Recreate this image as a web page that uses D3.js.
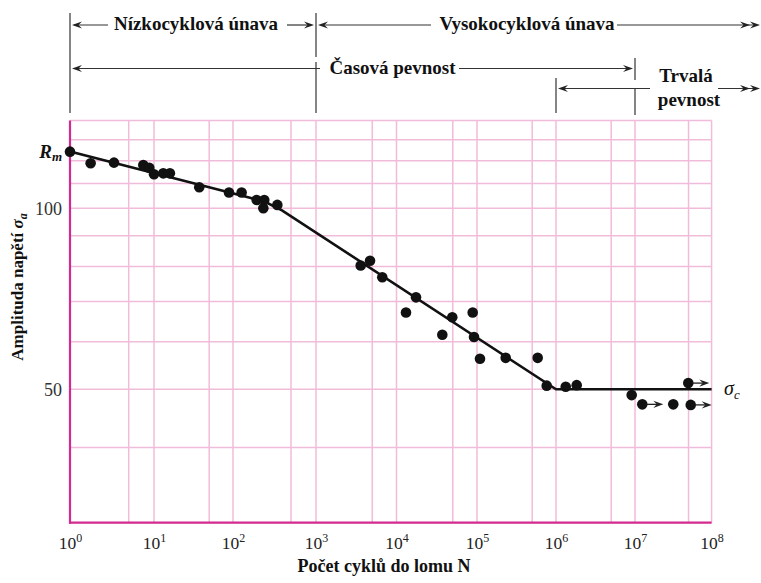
<!DOCTYPE html>
<html><head><meta charset="utf-8">
<script src="https://cdn.jsdelivr.net/npm/d3@7"></script>
<style>
html,body{margin:0;padding:0;background:#fff;}
svg{display:block;}
text{font-family:"Liberation Serif","Times New Roman",serif;}
</style></head>
<body>
<svg id="c" width="761" height="583"></svg>
<script>
// ---- data ----
const cyclesN = [1, 1.76, 3.34, 7.46, 8.79, 10, 13.1, 15.9, 37.4, 89, 127, 193, 238, 232, 342,
  3590, 4690, 6660, 17460, 13120, 49300, 88400, 37070, 91800, 109100, 230800, 586600, 762600,
  1.327e6, 1.828e6, 9.08e6, 1.245e7, 3.16e7, 4.96e7, 5.34e7];
const stressAmp = [124.2, 118.8, 119.1, 118.0, 116.8, 113.9, 114.3, 114.3, 108.4, 106.2, 106.2, 103.2, 103.2, 100, 101.3,
  80.3, 81.8, 76.8, 71.1, 67.1, 65.9, 67.1, 61.6, 61.1, 56.2, 56.4, 56.4, 50.7,
  50.5, 50.8, 48.9, 47.2, 47.2, 51.2, 47.1];
const runout = [0,0,0,0,0,0,0,0,0,0,0,0,0,0,0, 0,0,0,0,0,0,0,0,0,0,0,0,0, 0,0,0,1,0,1,1];
const curveN = [1, 160, 253, 389, 1e6, 1e8];
const curveS = [124.3, 104.1, 102.2, 99.2, 50, 50];
const decadeTicks = [1, 1e1, 1e2, 1e3, 1e4, 1e5, 1e6, 1e7, 1e8];
const decadeExp = ["0","1","2","3","4","5","6","7","8"];
const xGridVals = [5, 10, 50, 100, 500, 1e3, 5e3, 1e4, 5e4, 1e5, 5e5, 1e6, 5e6, 1e7, 5e7, 1e8];
const yGridVals = [40, 50, 60, 70, 80, 90, 100, 110, 120, 130, 140];
const yTickVals = [50, 100];
const Rm = 124.1;
const sigmaC = 50;
const yLabel = "Amplituda napětí ";
const xLabel = "Počet cyklů do lomu N";

// ---- scales ----
const svg = d3.select("#c");
const x = d3.scaleLog().domain(decadeTicks)
  .range([70, 154, 233, 316, 396.5, 477, 556, 635, 711.6]);
const y = d3.scaleLog().domain([30, 140]).range([522.7, 120.4]);

const pink = "#f1bcda", mag = "#d22a8e";

// grid
const g = svg.append("g");
g.selectAll("line.v").data(xGridVals).join("line")
  .attr("x1", d => x(d)).attr("x2", d => x(d)).attr("y1", y(30)).attr("y2", y(140))
  .attr("stroke", pink).attr("stroke-width", 1.5);
g.selectAll("line.h").data(yGridVals).join("line")
  .attr("x1", x(1)).attr("x2", x(1e8)).attr("y1", d => y(d)).attr("y2", d => y(d))
  .attr("stroke", pink).attr("stroke-width", 1.5);

// axes
const xAxis = d3.axisBottom(x).tickValues(decadeTicks).tickSize(0).tickPadding(14);
const xa = svg.append("g").attr("transform", `translate(0,${y(30)})`).call(xAxis);
xa.select(".domain").remove();
xa.selectAll(".tick text").each(function(d, i) {
  const t = d3.select(this).text(null).attr("font-size", 17.5).attr("fill", "#222")
    .attr("font-family", "Liberation Serif, serif");
  t.append("tspan").text("10");
  t.append("tspan").attr("dy", -7).attr("font-size", 12).text(decadeExp[i]);
});
const yAxis = d3.axisLeft(y).tickValues(yTickVals).tickSize(0).tickPadding(8).tickFormat(d3.format("d"));
const ya = svg.append("g").attr("transform", `translate(${x(1)},0)`).call(yAxis);
ya.select(".domain").remove();
ya.selectAll(".tick text").attr("font-size", 18).attr("fill", "#333")
  .attr("font-family", "Liberation Serif, serif");

svg.append("line").attr("x1", x(1)).attr("x2", x(1)).attr("y1", y(140)).attr("y2", y(30) + 1)
  .attr("stroke", mag).attr("stroke-width", 2.2);
svg.append("line").attr("x1", x(1) - 1).attr("x2", x(1e8)).attr("y1", y(30)).attr("y2", y(30))
  .attr("stroke", mag).attr("stroke-width", 2.2);

// Rm label
const rmT = svg.append("text").attr("x", 62).attr("y", y(Rm) + 6).attr("text-anchor", "end")
  .attr("font-size", 19).attr("font-weight", "bold").attr("font-style", "italic").attr("fill", "#111");
rmT.append("tspan").text("R");
rmT.append("tspan").attr("font-size", 13).attr("dy", 3).text("m");

// fitted curve
const line = d3.line().x(d => x(d[0])).y(d => y(d[1]));
svg.append("path").datum(curveN.map((n, i) => [n, curveS[i]]))
  .attr("d", line).attr("fill", "none").attr("stroke", "#111").attr("stroke-width", 2.6);

// arrowhead helper
function head(sel, tx, ty, dir) {
  const L = 10, h = 3.6;
  sel.append("path")
    .attr("d", `M${tx},${ty}L${tx - dir * L},${ty - h}L${tx - dir * L * 0.65},${ty}L${tx - dir * L},${ty + h}Z`)
    .attr("fill", "#222");
}

// points
const pts = cyclesN.map((n, i) => ({n, s: stressAmp[i], r: runout[i]}));
svg.selectAll("circle.p").data(pts).join("circle")
  .attr("cx", d => x(d.n)).attr("cy", d => y(d.s)).attr("r", 5.3).attr("fill", "#111");
const ro = svg.append("g");
pts.filter(d => d.r).forEach(d => {
  const cx = x(d.n), cy = y(d.s);
  ro.append("line").attr("x1", cx + 4).attr("x2", cx + 16).attr("y1", cy).attr("y2", cy)
    .attr("stroke", "#222").attr("stroke-width", 1.3);
  head(ro, cx + 21, cy, 1);
});

// sigma_c label
const sc = svg.append("text").attr("x", 724).attr("y", y(sigmaC) + 6)
  .attr("font-size", 20).attr("font-style", "italic").attr("fill", "#111");
sc.append("tspan").text("σ");
sc.append("tspan").attr("font-size", 13).attr("dy", 4).text("c");

// axis titles
svg.append("text").attr("x", 384).attr("y", 572).attr("text-anchor", "middle")
  .attr("font-size", 18).attr("font-weight", "bold").attr("fill", "#111").text(xLabel);
const yl = svg.append("text").attr("transform", "translate(23,287) rotate(-90)").attr("text-anchor", "middle")
  .attr("font-size", 17).attr("font-weight", "bold").attr("fill", "#111");
yl.append("tspan").text(yLabel);
yl.append("tspan").attr("font-style", "italic").text("σ");
yl.append("tspan").attr("font-style", "italic").attr("font-size", 12).attr("dy", 4).text("a");

// ---- top annotations ----
const a = svg.append("g").attr("stroke", "#333").attr("stroke-width", 1.2);
const vseg = (xx, y1, y2) => a.append("line").attr("x1", xx).attr("x2", xx).attr("y1", y1).attr("y2", y2);
const hseg = (x1, x2, yy) => a.append("line").attr("x1", x1).attr("x2", x2).attr("y1", yy).attr("y2", yy);
vseg(x(1), 13, 113);
vseg(x(1e3), 13, 57); vseg(x(1e3), 62, 113);
vseg(x(1e7), 58, 80); vseg(x(1e7), 88, 115);
vseg(x(1e6), 78, 113);
const ah = svg.append("g");
// row 1
const r1 = 25;
hseg(74, 108, r1); head(ah, x(1) + 2, r1, -1);
hseg(287, 310, r1); head(ah, x(1e3) - 2, r1, 1);
hseg(321, 431, r1); head(ah, x(1e3) + 2, r1, -1);
hseg(617, 757, r1); head(ah, 750, r1, 1); head(ah, 760, r1, 1);
// row 2
const r2 = 68.5;
hseg(74, 320, r2); head(ah, x(1) + 2, r2, -1);
hseg(459, 630, r2); head(ah, x(1e7) - 2, r2, 1);
// row 3
const r3 = 88.5;
hseg(560, 650, r3); head(ah, x(1e6) + 2, r3, -1);
hseg(718, 757, r3); head(ah, 750, r3, 1); head(ah, 760, r3, 1);

const tl = (txt, cx, by) => svg.append("text").attr("x", cx).attr("y", by).attr("text-anchor", "middle")
  .attr("font-size", 19).attr("font-weight", "bold").attr("fill", "#111").text(txt);
tl("Nízkocyklová únava", 196, 30);
tl("Vysokocyklová únava", 527, 30);
tl("Časová pevnost", 392.5, 74);
tl("Trvalá", 686, 82);
tl("pevnost", 689, 106);
</script>
</body></html>
